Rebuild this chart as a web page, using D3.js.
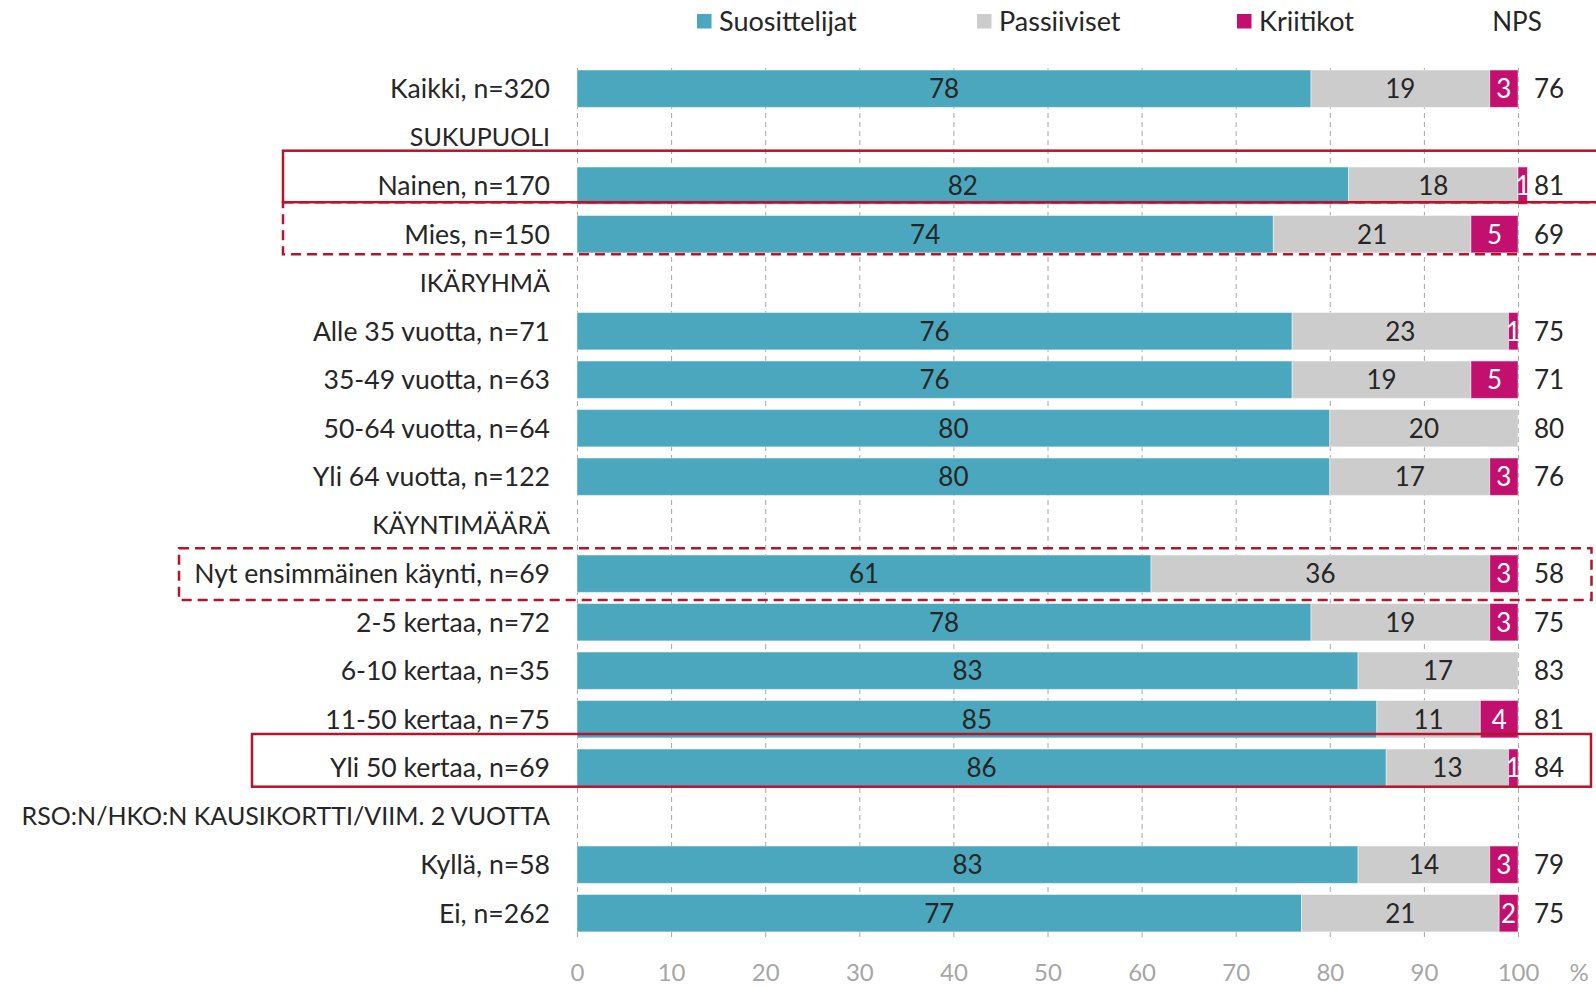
<!DOCTYPE html>
<html>
<head>
<meta charset="utf-8">
<script src="https://cdn.jsdelivr.net/npm/d3@7/dist/d3.min.js"></script>
<style>
  html, body { margin: 0; padding: 0; background: #fff; }
  svg { display: block; font-family: Lato, "Open Sans", sans-serif; }
</style>
</head>
<body>
<svg id="chart" width="1596" height="987"></svg>
<script>
// Rows of the chart; upper-case rows are group headings without bars
const categories = [
  "Kaikki, n=320",
  "SUKUPUOLI",
  "Nainen, n=170",
  "Mies, n=150",
  "IKÄRYHMÄ",
  "Alle 35 vuotta, n=71",
  "35-49 vuotta, n=63",
  "50-64 vuotta, n=64",
  "Yli 64 vuotta, n=122",
  "KÄYNTIMÄÄRÄ",
  "Nyt ensimmäinen käynti, n=69",
  "2-5 kertaa, n=72",
  "6-10 kertaa, n=35",
  "11-50 kertaa, n=75",
  "Yli 50 kertaa, n=69",
  "RSO:N/HKO:N KAUSIKORTTI/VIIM. 2 VUOTTA",
  "Kyllä, n=58",
  "Ei, n=262"
];
const headings = ["SUKUPUOLI", "IKÄRYHMÄ", "KÄYNTIMÄÄRÄ", "RSO:N/HKO:N KAUSIKORTTI/VIIM. 2 VUOTTA"];

// Shares in percent
const promoters  = [78, null, 82, 74, null, 76, 76, 80, 80, null, 61, 78, 83, 85, 86, null, 83, 77];
const passives   = [19, null, 18, 21, null, 23, 19, 20, 17, null, 36, 19, 17, 11, 13, null, 14, 21];
const detractors = [ 3, null,  1,  5, null,  1,  5,  0,  3, null,  3,  3,  0,  4,  1, null,  3,  2];
const npsValues  = [76, null, 81, 69, null, 75, 71, 80, 76, null, 58, 75, 83, 81, 84, null, 79, 75];

const seriesNames = ["Suosittelijat", "Passiiviset", "Kriitikot"];
const xTicks = [0, 10, 20, 30, 40, 50, 60, 70, 80, 90, 100];

// Rows outlined with a red frame
const highlights = [
  { row: "Nainen, n=170",                dashed: false },
  { row: "Mies, n=150",                  dashed: true  },
  { row: "Nyt ensimmäinen käynti, n=69", dashed: true  },
  { row: "Yli 50 kertaa, n=69",          dashed: false }
];

const colors = { "Suosittelijat": "#4ba7bd", "Passiiviset": "#cccccc", "Kriitikot": "#c2106e" };
const textColor = "#262626";
const axisColor = "#a6a6a6";
const frameColor = "#b5142b";

const svg = d3.select("#chart");

const x = d3.scaleLinear().domain([0, 100]).range([577, 1518]);
const y = d3.scaleBand().domain(categories).range([64.45, 937.45])
  .paddingInner(0.23).paddingOuter(0.115);

// Build stacked rows
const rows = categories.map((c, i) => ({
  cat: c,
  values: [promoters[i], passives[i], detractors[i]],
  nps: npsValues[i]
})).filter(d => d.values[0] !== null);

// Grid and x axis
const gridTop = 65, gridBottom = 937;
const axis = d3.axisBottom(x).tickValues(xTicks).tickSize(-(gridBottom - gridTop)).tickPadding(27);
const gAxis = svg.append("g").attr("transform", `translate(0,${gridBottom})`).call(axis);
gAxis.select(".domain").remove();
gAxis.selectAll(".tick line")
  .attr("stroke", "#a6a6a6").attr("stroke-width", 1).attr("stroke-dasharray", "5,4");
gAxis.selectAll(".tick text")
  .attr("fill", axisColor).style("font-size", "24px").style("font-family", "Lato, sans-serif");
svg.append("text").attr("x", 1579).attr("y", gridBottom + 27).attr("dy", "0.71em")
  .attr("text-anchor", "middle").attr("fill", axisColor).style("font-size", "24px").text("%");

// Bars
const segs = [];
rows.forEach(r => {
  let acc = 0;
  r.values.forEach((v, k) => {
    if (v > 0) segs.push({ cat: r.cat, name: seriesNames[k], v: v, x0: acc, x1: acc + v });
    acc += v;
  });
});

svg.append("g").selectAll("rect").data(segs).join("rect")
  .attr("x", d => x(d.x0))
  .attr("width", d => x(d.x1) - x(d.x0))
  .attr("y", d => y(d.cat))
  .attr("height", y.bandwidth())
  .attr("fill", d => colors[d.name])
  .attr("stroke", "#ffffff").attr("stroke-opacity", 0.45).attr("stroke-width", 1);

svg.append("g").selectAll("text").data(segs).join("text")
  .attr("x", d => (x(d.x0) + x(d.x1)) / 2)
  .attr("y", d => y(d.cat) + y.bandwidth() / 2)
  .attr("dy", "0.36em")
  .attr("text-anchor", "middle")
  .attr("fill", d => d.name === "Kriitikot" ? "#ffffff" : textColor)
  .style("font-size", "26px")
  .text(d => d.v);

// NPS values
svg.append("g").selectAll("text").data(rows).join("text")
  .attr("x", 1549)
  .attr("y", d => y(d.cat) + y.bandwidth() / 2)
  .attr("dy", "0.36em")
  .attr("text-anchor", "middle")
  .attr("fill", textColor)
  .style("font-size", "26px")
  .text(d => d.nps);

// Row labels (group headings set slightly smaller)
svg.append("g").selectAll("text").data(categories).join("text")
  .attr("x", 550)
  .attr("y", d => y(d) + y.bandwidth() / 2)
  .attr("dy", "0.36em")
  .attr("text-anchor", "end")
  .attr("fill", textColor)
  .style("font-size", d => headings.includes(d) ? "25px" : "26.6px")
  .text(d => d);

// Legend
const legendX = [697, 977, 1237];
const legend = svg.append("g");
seriesNames.forEach((n, i) => {
  legend.append("rect").attr("x", legendX[i]).attr("y", 14).attr("width", 14.5).attr("height", 14.5)
    .attr("fill", colors[n]);
  legend.append("text").attr("x", legendX[i] + 22).attr("y", 21.5).attr("dy", "0.36em")
    .attr("fill", textColor).style("font-size", "27px").text(n);
});
legend.append("text").attr("x", 1517).attr("y", 21.5).attr("dy", "0.36em")
  .attr("text-anchor", "middle").attr("fill", textColor).style("font-size", "26px").text("NPS");

// Red frames around selected rows
const frameSpec = {
  "Nainen, n=170":                { left: 283, right: 1610, top: -35, bottom: 16.5 },
  "Mies, n=150":                  { left: 283, right: 1610, top: -32, bottom: 20 },
  "Nyt ensimmäinen käynti, n=69": { left: 179, right: 1591.5, top: -25.4, bottom: 26.3 },
  "Yli 50 kertaa, n=69":          { left: 252, right: 1591, top: -33.7, bottom: 19 }
};
svg.append("g").selectAll("rect").data(highlights).join("rect")
  .attr("x", d => frameSpec[d.row].left)
  .attr("y", d => y(d.row) + y.bandwidth() / 2 + frameSpec[d.row].top)
  .attr("width", d => frameSpec[d.row].right - frameSpec[d.row].left)
  .attr("height", d => frameSpec[d.row].bottom - frameSpec[d.row].top)
  .attr("fill", "none")
  .attr("stroke", frameColor)
  .attr("stroke-width", 2.5)
  .attr("stroke-dasharray", d => d.dashed ? "10,6" : null);
</script>
</body>
</html>
